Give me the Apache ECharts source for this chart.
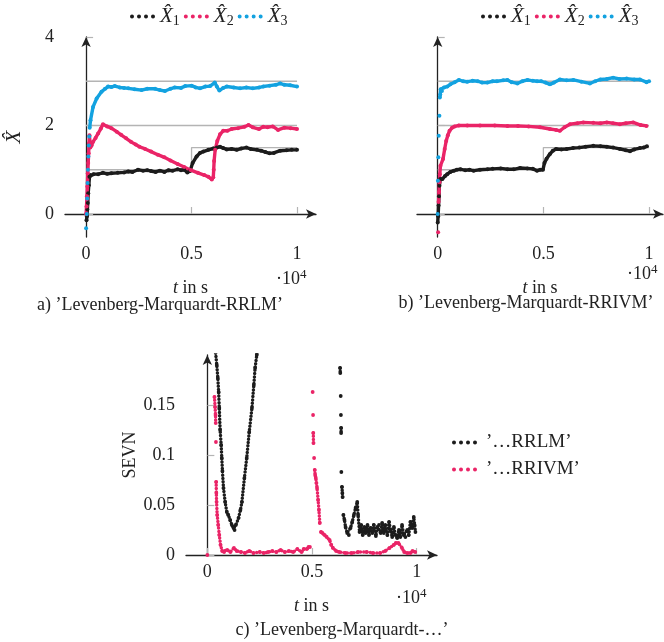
<!DOCTYPE html>
<html>
<head>
<meta charset="utf-8">
<script src="https://cdn.jsdelivr.net/npm/echarts@6/dist/echarts.min.js"></script>
<style>
  html, body { margin: 0; padding: 0; background: #fff; }
  #chart { width: 664px; height: 642px; }
</style>
</head>
<body>
<div id="chart"></div>
<script>
var FONT = 'Liberation Serif';
var BLACK = '#1c1c1c', PINK = '#ea2467', BLUE = '#13a2e0', GRAY = '#b4b4b4';

// tick positions
var tickX = [0, 0.5, 1];
var tickYA = [0, 2, 4];
var tickYC = [0, 0.05, 0.1, 0.15];

// true values (gray reference lines), t in 1e4 s
var refX1 = [[0, 1], [0.5, 1], [0.5, 1.5], [1, 1.5]];
var refX2 = [[0, 2], [1, 2]];
var refX3 = [[0, 3], [1, 3]];

// a) RRLM estimates, null = gap between single dots
var aX1 = [[0.002,-0.14],[0.004,-0.05],[0.006,0.1],[0.008,0.25],[0.01,0.47],[0.013,0.65],[0.016,0.84],[0.02,0.88],[0.035,0.9],[0.057,0.9],[0.08,0.93],[0.1,0.91],[0.12,0.92],[0.15,0.93],[0.18,0.94],[0.2,0.96],[0.22,0.95],[0.246,1.0],[0.27,0.98],[0.29,0.99],[0.308,0.97],[0.33,0.95],[0.35,0.98],[0.371,0.95],[0.39,0.99],[0.41,0.98],[0.434,1.01],[0.45,0.99],[0.465,1.0],[0.48,0.94],[0.493,0.97],[0.505,1.15],[0.524,1.3],[0.54,1.38],[0.556,1.41],[0.58,1.45],[0.603,1.48],[0.62,1.5],[0.635,1.52],[0.65,1.49],[0.667,1.46],[0.69,1.47],[0.714,1.45],[0.735,1.48],[0.76,1.5],[0.78,1.47],[0.81,1.45],[0.83,1.43],[0.85,1.4],[0.87,1.37],[0.89,1.38],[0.92,1.43],[0.95,1.44],[0.975,1.45],[1.0,1.45]];
var aX2 = [[0,0.0],[0.002,0.17],[0.004,0.4],[0.006,0.62],[0.008,0.92],[0.01,1.15],[0.012,1.37],[0.014,1.6],[0.016,1.78],[0.02,1.5],[0.026,1.55],[0.033,1.63],[0.045,1.72],[0.057,1.82],[0.07,1.93],[0.08,2.03],[0.1,1.98],[0.12,1.94],[0.145,1.86],[0.166,1.79],[0.19,1.71],[0.213,1.63],[0.235,1.57],[0.253,1.52],[0.28,1.47],[0.308,1.41],[0.34,1.34],[0.371,1.28],[0.4,1.21],[0.434,1.13],[0.465,1.06],[0.497,0.99],[0.53,0.93],[0.56,0.88],[0.58,0.84],[0.596,0.78],[0.603,0.83],[0.605,1.0],[0.607,1.2],[0.612,1.45],[0.622,1.65],[0.635,1.8],[0.65,1.88],[0.67,1.88],[0.69,1.92],[0.72,1.94],[0.75,1.97],[0.77,2.01],[0.79,1.96],[0.82,1.92],[0.84,1.97],[0.86,1.96],[0.885,1.98],[0.91,1.9],[0.94,1.95],[0.97,1.94],[1.0,1.92]];
var aX3 = [[0,-0.32],null,[0.003,0.0],null,[0.005,0.35],null,[0.007,0.7],null,[0.009,1.0],null,[0.011,1.3],null,[0.013,1.55],null,[0.015,1.75],null,[0.017,1.95],[0.021,2.12],[0.033,2.42],[0.05,2.61],[0.073,2.76],[0.09,2.83],[0.104,2.88],[0.12,2.87],[0.136,2.89],[0.16,2.86],[0.18,2.85],[0.2,2.84],[0.23,2.82],[0.263,2.8],[0.29,2.83],[0.327,2.83],[0.35,2.8],[0.374,2.78],[0.4,2.83],[0.42,2.86],[0.45,2.85],[0.47,2.89],[0.5,2.9],[0.52,2.86],[0.54,2.84],[0.565,2.88],[0.588,2.89],[0.61,2.97],[0.62,2.88],[0.632,2.79],[0.65,2.85],[0.667,2.88],[0.7,2.86],[0.73,2.84],[0.76,2.86],[0.79,2.84],[0.82,2.86],[0.84,2.88],[0.87,2.9],[0.9,2.92],[0.92,2.95],[0.94,2.92],[0.967,2.91],[1.0,2.88]];

// b) RRIVM estimates
var bX1 = [[0,-0.19],[0.002,-0.05],[0.004,0.19],[0.006,0.4],[0.008,0.64],[0.012,0.79],[0.022,0.79],[0.035,0.86],[0.045,0.9],[0.06,0.95],[0.077,0.98],[0.09,1.0],[0.108,1.01],[0.13,0.99],[0.15,1.0],[0.17,0.98],[0.2,1.0],[0.235,1.01],[0.26,1.02],[0.298,1.03],[0.33,1.01],[0.36,1.01],[0.39,1.04],[0.424,1.03],[0.45,1.02],[0.47,0.98],[0.485,1.0],[0.498,1.0],[0.505,1.15],[0.515,1.25],[0.53,1.35],[0.545,1.43],[0.56,1.47],[0.585,1.46],[0.61,1.47],[0.64,1.49],[0.67,1.5],[0.7,1.52],[0.736,1.54],[0.77,1.53],[0.8,1.52],[0.83,1.5],[0.862,1.47],[0.89,1.44],[0.91,1.42],[0.93,1.46],[0.957,1.49],[0.975,1.5],[0.99,1.53]];
var bX2 = [[0.002,-0.41],null,[0.004,0.27],[0.006,0.5],[0.008,0.72],[0.01,0.9],[0.013,1.09],[0.025,1.24],[0.033,1.47],[0.04,1.65],[0.048,1.78],[0.056,1.88],[0.068,1.95],[0.08,1.98],[0.1,2.0],[0.14,2.0],[0.2,2.0],[0.27,2.0],[0.33,1.99],[0.38,1.99],[0.43,1.98],[0.484,1.96],[0.531,1.92],[0.56,1.9],[0.578,1.88],[0.6,1.96],[0.626,2.03],[0.66,2.05],[0.689,2.07],[0.736,2.06],[0.77,2.05],[0.8,2.07],[0.83,2.05],[0.862,2.03],[0.89,2.05],[0.925,2.07],[0.96,2.01],[0.988,1.99]];
var bX3 = [[0,0.0],null,[0.001,0.75],null,[0.003,1.28],null,[0.005,1.77],null,[0.008,2.22],null,[0.01,2.63],[0.012,2.7],[0.014,2.82],[0.02,2.78],[0.03,2.86],[0.045,2.88],[0.06,2.93],[0.08,2.98],[0.1,3.03],[0.12,3.0],[0.14,2.99],[0.165,3.01],[0.19,3.0],[0.21,2.97],[0.235,2.97],[0.26,3.0],[0.28,3.0],[0.31,3.02],[0.33,3.03],[0.35,2.98],[0.377,2.95],[0.4,3.0],[0.425,3.03],[0.45,3.01],[0.47,3.0],[0.49,3.0],[0.51,2.97],[0.531,2.93],[0.55,2.97],[0.578,3.04],[0.61,3.02],[0.642,3.03],[0.68,2.99],[0.72,2.95],[0.745,3.0],[0.77,3.04],[0.8,3.05],[0.83,3.08],[0.86,3.05],[0.894,3.06],[0.93,3.04],[0.957,3.04],[0.988,2.98],[1.0,3.0]];

// c) SEVN
var cRRLM = [[0.038,0.205],[0.045,0.19],[0.05,0.177],[0.054,0.163],[0.057,0.147],[0.061,0.125],[0.066,0.11],[0.069,0.097],[0.072,0.084],[0.077,0.067],[0.085,0.053],[0.093,0.043],[0.1,0.04],[0.109,0.035],[0.117,0.03],[0.125,0.027],[0.13,0.025],[0.136,0.03],[0.149,0.037],[0.158,0.045],[0.165,0.053],[0.177,0.077],[0.188,0.097],[0.2,0.123],[0.213,0.147],[0.222,0.17],[0.228,0.187],[0.236,0.2],[0.24,0.21],null,[0.634,0.187],[0.635,0.182],null,[0.637,0.159],null,[0.638,0.14],null,[0.639,0.127],[0.639,0.122],null,[0.64,0.083],null,[0.643,0.068],[0.645,0.062],[0.646,0.058],null,[0.65,0.04],[0.655,0.035],[0.66,0.028],[0.668,0.022],[0.676,0.02],[0.684,0.027],[0.692,0.033],[0.7,0.04],[0.708,0.047],[0.716,0.053],[0.72,0.04],[0.727,0.023],[0.735,0.03],[0.742,0.02],[0.75,0.028],[0.756,0.022],[0.765,0.03],[0.772,0.02],[0.78,0.027],[0.788,0.022],[0.795,0.03],[0.805,0.019],[0.812,0.028],[0.82,0.03],[0.828,0.022],[0.835,0.032],[0.843,0.022],[0.85,0.03],[0.86,0.02],[0.868,0.033],[0.875,0.025],[0.883,0.018],[0.891,0.028],[0.898,0.02],[0.907,0.017],[0.915,0.025],[0.922,0.018],[0.93,0.03],[0.938,0.02],[0.946,0.018],[0.955,0.025],[0.962,0.02],[0.97,0.033],[0.978,0.027],[0.986,0.038],[0.99,0.03],[0.994,0.023]];
var cRRIVM = [[0,0],null,[0.034,0.158],[0.037,0.148],[0.039,0.14],[0.04,0.132],null,[0.041,0.113],null,[0.042,0.073],[0.043,0.062],[0.044,0.053],[0.047,0.04],[0.052,0.03],[0.057,0.02],[0.063,0.01],[0.071,0.004],[0.08,0.003],[0.095,0.005],[0.11,0.003],[0.127,0.007],[0.14,0.004],[0.16,0.003],[0.18,0.002],[0.2,0.004],[0.22,0.002],[0.25,0.003],[0.27,0.002],[0.29,0.003],[0.31,0.004],[0.33,0.003],[0.35,0.005],[0.37,0.003],[0.39,0.004],[0.41,0.003],[0.43,0.006],[0.45,0.003],[0.46,0.006],[0.475,0.006],[0.483,0.008],[0.49,0.008],null,[0.503,0.163],null,[0.505,0.14],null,[0.506,0.122],[0.507,0.112],null,[0.51,0.097],null,[0.513,0.085],[0.515,0.08],[0.518,0.077],[0.521,0.072],[0.524,0.067],[0.529,0.055],[0.533,0.045],[0.537,0.032],null,[0.543,0.023],[0.55,0.022],[0.56,0.02],[0.57,0.018],[0.584,0.015],[0.592,0.01],[0.6,0.007],[0.615,0.004],[0.63,0.003],[0.66,0.002],[0.69,0.002],[0.72,0.003],[0.76,0.003],[0.79,0.002],[0.825,0.002],[0.85,0.004],[0.87,0.007],[0.89,0.01],[0.9,0.012],[0.913,0.012],[0.93,0.007],[0.94,0.003],[0.954,0.002],[0.97,0.002],[0.98,0.004],[0.993,0.003]];

var dotsIcon = 'path://M0,2a2,2 0 1,0 4,0a2,2 0 1,0 -4,0Z M7,2a2,2 0 1,0 4,0a2,2 0 1,0 -4,0Z M14,2a2,2 0 1,0 4,0a2,2 0 1,0 -4,0Z M21,2a2,2 0 1,0 4,0a2,2 0 1,0 -4,0Z';

function est(name, data, color, idx, dotted) {
    return {
        name: name,
        type: 'line',
        xAxisIndex: idx,
        yAxisIndex: idx,
        data: data.map(function (p) { return p ? p : ['-', '-']; }),
        symbol: 'circle',
        symbolSize: dotted ? 3.8 : 4,
        showSymbol: true,
        showAllSymbol: true,
        connectNulls: false,
        lineStyle: dotted
            ? { color: color, width: 3.5, type: [0, 3.3], cap: 'round' }
            : { color: color, width: 3.4 },
        itemStyle: { color: color },
        z: 3,
        silent: true
    };
}

function ref(data, idx) {
    return {
        type: 'line',
        xAxisIndex: idx,
        yAxisIndex: idx,
        data: data,
        symbol: 'none',
        lineStyle: { color: GRAY, width: 1.3 },
        z: 1,
        silent: true
    };
}

var lbl = { fontFamily: FONT, fontSize: 18, color: '#222' };

function xAx(grid, min, max) {
    return {
        gridIndex: grid, type: 'value', min: min, max: max,
        name: '{t|t} in s', nameLocation: 'middle', nameGap: 42,
        nameTextStyle: { fontFamily: FONT, fontSize: 18, color: '#222', rich: { t: { fontFamily: FONT, fontSize: 18, fontStyle: 'italic', color: '#222' } } },
        axisLine: { lineStyle: { color: '#222', width: 1.3 }, symbol: ['none', 'arrow'], symbolSize: [7, 10] },
        axisTick: { inside: true, length: 7, lineStyle: { color: GRAY, width: 1.2 }, customValues: tickX },
        axisLabel: Object.assign({ margin: 8, customValues: tickX, formatter: function (v) { return String(v); } }, lbl),
        splitLine: { show: false }
    };
}

function yAx(grid, min, max, ticks, name, showLabel) {
    return {
        gridIndex: grid, type: 'value', min: min, max: max,
        name: name, nameLocation: 'middle', nameGap: name === 'SEVN' ? 38 : 40, nameRotate: 90,
        nameTextStyle: { fontFamily: FONT, fontSize: name === 'SEVN' ? 18 : 21, color: '#222', fontStyle: name === 'SEVN' ? 'normal' : 'italic' },
        axisLine: { lineStyle: { color: '#222', width: 1.3 }, symbol: ['none', 'arrow'], symbolSize: [7, 10] },
        axisTick: { inside: true, length: 7, lineStyle: { color: GRAY, width: 1.2 }, customValues: ticks },
        axisLabel: Object.assign({ show: showLabel, margin: 11, customValues: ticks, formatter: function (v) { return String(v); } }, lbl),
        splitLine: { show: false }
    };
}

function legendFmt(n) {
    if (n.charAt(0) === 'X') return '{i|X\u0302}{s|' + n.charAt(1) + '}';
    return n;
}
var legendText = {
    fontFamily: FONT, fontSize: 19, color: '#222',
    rich: {
        i: { fontFamily: FONT, fontSize: 21, fontStyle: 'italic', color: '#222' },
        s: { fontFamily: FONT, fontSize: 14, color: '#222', padding: [10, 0, 0, 0] }
    }
};

var chart = echarts.init(document.getElementById('chart'), null, { renderer: 'canvas' });
var option = {
    animation: false,
    backgroundColor: '#fff',
    grid: [
        { left: 65, top: 37, width: 251, height: 200 },
        { left: 417, top: 37, width: 246, height: 200 },
        { left: 186, top: 355, width: 251, height: 200 }
    ],
    xAxis: [xAx(0, -0.1, 1.09), xAx(1, -0.098, 1.066), xAx(2, -0.102, 1.097)],
    yAxis: [
        yAx(0, -0.52, 4, tickYA, 'X\u0302', true),
        yAx(1, -0.52, 4, tickYA, '', false),
        yAx(2, 0, 0.2, tickYC, 'SEVN', true)
    ],
    legend: [
        { left: 125, top: 1, data: ['X1', 'X2', 'X3'], icon: dotsIcon, itemWidth: 25, itemHeight: 4, itemGap: 4, formatter: legendFmt, textStyle: legendText, selectedMode: false },
        { left: 476, top: 1, data: ['X1', 'X2', 'X3'], icon: dotsIcon, itemWidth: 25, itemHeight: 4, itemGap: 4, formatter: legendFmt, textStyle: legendText, selectedMode: false },
        { left: 447, top: 428, orient: 'vertical', data: ['\u2019\u2026RRLM\u2019', '\u2019\u2026RRIVM\u2019'], icon: dotsIcon, itemWidth: 25, itemHeight: 4, itemGap: 8, textStyle: { fontFamily: FONT, fontSize: 19, color: '#222', padding: [0, 0, 0, 4] }, selectedMode: false }
    ],
    series: [
        ref(refX1, 0), ref(refX2, 0), ref(refX3, 0),
        ref(refX1, 1), ref(refX2, 1), ref(refX3, 1),
        est('X1', aX1, BLACK, 0), est('X2', aX2, PINK, 0), est('X3', aX3, BLUE, 0),
        est('X1', bX1, BLACK, 1), est('X2', bX2, PINK, 1), est('X3', bX3, BLUE, 1),
        est('\u2019\u2026RRLM\u2019', cRRLM, BLACK, 2, true), est('\u2019\u2026RRIVM\u2019', cRRIVM, PINK, 2, true)
    ],
    graphic: [
        { type: 'text', x: 276, y: 268, style: { text: '{a|\u00b710}{b|4}', rich: { a: { fontFamily: FONT, fontSize: 18, fill: '#222' }, b: { fontFamily: FONT, fontSize: 13, fill: '#222', padding: [0, 0, 10, 0] } } } },
        { type: 'text', x: 627, y: 263, style: { text: '{a|\u00b710}{b|4}', rich: { a: { fontFamily: FONT, fontSize: 18, fill: '#222' }, b: { fontFamily: FONT, fontSize: 13, fill: '#222', padding: [0, 0, 10, 0] } } } },
        { type: 'text', x: 396, y: 587, style: { text: '{a|\u00b710}{b|4}', rich: { a: { fontFamily: FONT, fontSize: 18, fill: '#222' }, b: { fontFamily: FONT, fontSize: 13, fill: '#222', padding: [0, 0, 10, 0] } } } },
        { type: 'text', x: 160, y: 305, style: { text: 'a) \u2019Levenberg-Marquardt-RRLM\u2019', font: '18px "Liberation Serif"', fill: '#222', align: 'center', verticalAlign: 'middle' } },
        { type: 'text', x: 526, y: 303, style: { text: 'b) \u2019Levenberg-Marquardt-RRIVM\u2019', font: '18px "Liberation Serif"', fill: '#222', align: 'center', verticalAlign: 'middle' } },
        { type: 'text', x: 342, y: 630, style: { text: 'c) \u2019Levenberg-Marquardt-\u2026\u2019', font: '18px "Liberation Serif"', fill: '#222', align: 'center', verticalAlign: 'middle' } }
    ]
};
chart.setOption(option);
</script>
</body>
</html>
